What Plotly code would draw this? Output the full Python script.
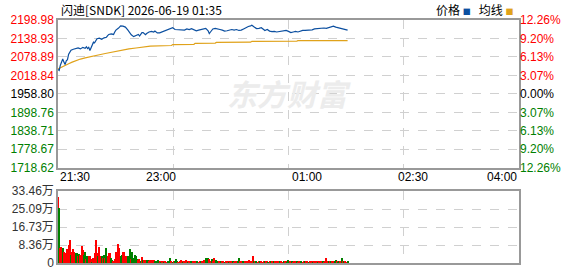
import plotly.graph_objects as go

# ---- data ----
title_text = "闪迪[SNDK] 2026-06-19 01:35"
x_labels = ["21:30", "23:00", "01:00", "02:30", "04:00"]
price_ticks = [1718.62, 1778.67, 1838.71, 1898.76, 1958.80, 2018.84, 2078.89, 2138.93, 2198.98]
pct_labels = ["12.26%", "9.20%", "6.13%", "3.07%", "0.00%", "3.07%", "6.13%", "9.20%", "12.26%"]
vol_ticks = [0, 8.36, 16.73, 25.09, 33.46]
vol_labels = ["0", "8.36万", "16.73万", "25.09万", "33.46万"]

price_t = [0, 1, 2, 3, 4, 5, 6, 7, 8, 9, 10, 11, 13, 15, 17, 19, 21, 23, 24, 25, 26, 27, 28, 29,
           30, 31, 32, 33, 35, 37, 39, 41, 42, 43, 45, 47, 48, 49, 51, 53, 55, 57, 59, 61, 62, 64,
           66, 68, 69, 71, 72, 74, 75, 77, 79, 81, 82, 84, 86, 88, 90, 92, 94, 96, 97, 99, 101,
           103, 105, 107, 109, 111, 113, 115, 117, 119, 121, 123, 125, 127, 128, 129, 131, 133,
           135, 137, 139, 141, 143, 145, 147, 149, 151, 153, 155, 157, 159, 161, 163, 164, 166,
           168, 170, 172, 174, 175, 177, 179, 181, 183, 185, 187, 189, 191, 193, 195, 197, 199,
           201, 203, 205, 207, 209, 211, 213, 215, 217, 219, 221, 223, 225, 227, 229, 231, 233,
           235, 237, 239, 241, 243, 245]
price_v = [2038, 2035, 2052, 2060, 2072, 2062, 2054, 2066, 2070, 2088, 2096, 2101, 2104, 2106,
           2108, 2105, 2110, 2107, 2112, 2106, 2110, 2100, 2108, 2120, 2127, 2125, 2130, 2138,
           2140, 2136, 2141, 2143, 2148, 2152, 2154, 2152, 2160, 2166, 2172, 2180, 2179, 2176,
           2167, 2155, 2151, 2145, 2149, 2152, 2147, 2158, 2158, 2151, 2155, 2160, 2162, 2160,
           2163, 2157, 2157, 2160, 2163, 2166, 2168, 2170, 2174, 2168, 2167, 2168, 2165, 2166,
           2170, 2168, 2171, 2168, 2164, 2166, 2168, 2170, 2172, 2164, 2155, 2160, 2170, 2172,
           2171, 2168, 2166, 2163, 2164, 2166, 2168, 2166, 2168, 2165, 2166, 2170, 2175, 2178,
           2180, 2182, 2176, 2171, 2172, 2174, 2168, 2165, 2168, 2163, 2161, 2162, 2160, 2161,
           2161, 2162, 2165, 2162, 2158, 2160, 2162, 2160, 2163, 2165, 2165, 2166, 2165, 2167,
           2170, 2171, 2172, 2173, 2173, 2172, 2175, 2176, 2179, 2176, 2174, 2170, 2168, 2167,
           2166]

avg_t = [0, 1, 3, 5, 7, 9, 12, 15, 19, 23, 27, 31, 35, 40, 45, 50, 55, 60, 66, 72, 78, 96, 97,
         115, 116, 133, 134, 163, 164, 202, 203, 245]
avg_v = [2040, 2042, 2047, 2051, 2054, 2057, 2062, 2067, 2072, 2076, 2080, 2083, 2086, 2090,
         2094, 2098, 2102, 2105, 2108, 2111, 2114, 2116, 2119, 2120, 2123, 2124, 2126, 2127,
         2129.5, 2130.5, 2131.7, 2132]

vol_minutes = list(range(246))
volumes = [30.8, 25.5, 6.8, 7.6, 6.8, 5.3, 4.5, 2.3, 6.4, 8.3,
           10.6, 3.8, 5.3, 6.4, 5.3, 4.5, 4.8, 3.3, 4.1, 3.8,
           7.8, 6.0, 3.8, 5.0, 1.8, 3.0, 3.0, 3.3, 1.8, 0.4,
           2.3, 4.5, 10.6, 4.5, 3.0, 7.2, 3.3, 3.0, 2.3, 3.8,
           2.3, 6.8, 3.0, 4.5, 4.5, 2.3, 1.5, 0.5, 1.8, 5.0,
           5.0, 8.6, 6.8, 3.3, 3.8, 5.3, 5.3, 3.0, 3.0, 3.0,
           1.8, 6.4, 1.8, 5.3, 2.3, 3.8, 3.0, 1.8, 1.2, 1.8,
           0.8, 2.7, 1.2, 1.5, 1.5, 1.5, 1.2, 0.5, 1.2, 0.6,
           1.2, 1.5, 0.8, 0.3, 0.8, 1.2,
           0.6, 0.4, 0.8, 0.5,
           0.3, 0.7, 0.4, 0.9, 0.5, 2.3, 0.6, 0.4, 0.8, 0.5,
           1.8, 0.6, 0.4, 0.7, 1.5, 0.5, 0.3, 0.6, 1.2, 0.5,
           0.4, 0.6, 0.3, 0.8, 0.5, 0.4, 1.0, 0.5, 0.6, 0.4,
           0.8, 0.5, 0.6, 0.4, 1.5, 2.3, 1.8, 2.3, 2.0, 0.8,
           1.8, 0.6, 2.3, 0.9, 1.2, 0.5, 0.7, 0.4, 0.6, 0.5,
           0.8, 0.4, 0.6, 0.9, 0.5, 0.3, 0.6, 0.5, 0.7, 0.4,
           0.6, 0.8, 0.5, 2.3, 0.6, 0.4, 0.7, 0.5, 0.6, 0.4,
           0.8, 0.5, 1.5, 0.6, 0.9, 3.3, 0.6, 0.5, 0.8, 0.4,
           0.6, 0.5, 0.9, 0.4, 0.6, 1.0, 0.5, 0.7, 0.4, 0.6,
           0.8, 0.5, 0.4, 0.7, 0.5, 0.6, 0.4, 0.8, 0.5, 0.6,
           0.4, 0.7, 0.5, 0.9, 0.4, 1.5, 0.6, 0.5, 0.8, 0.4,
           0.6, 0.5, 0.7, 0.4, 0.6, 0.9, 0.5, 0.4, 0.6, 0.5,
           1.0, 0.6, 0.4, 0.7, 0.5, 0.8, 0.4, 0.6, 0.5, 0.7,
           0.4, 0.6, 0.9, 0.5, 0.6, 0.4, 0.7, 2.3, 0.6, 0.5,
           0.8, 0.9, 0.6, 0.5, 0.7, 1.2, 0.5, 0.4, 0.8, 0.6,
           2.3, 0.6, 0.5, 0.8, 0.4, 0.6]
vol_dir = ("rgrrgrrrrr" "rgrrrggrgr" "rrggrgrrrg" "rrrrgrrgrg" "rgrrrggrrr"
           "rrrggrrrrg" "ggrgggggrr" "grgrrggrrr" "rrgggg"
           "rgrr" "grrgggrgrg" "ggrrrrgrrr" "grrgrrrrgr" "rgrrrgggrr"
           "grrrggrrgr" "rgrrrgrrgr" "rrggrrrgrr" "rrrrrrgrgr" "rgrrrgrrgr"
           "grrgrrrrgr" "rgrrggrrgr" "rrgrrrgrrg" "rrgrrrgrrr" "grrrgrrrrg"
           "rgrrggrggr" "grgrrg")

# ---- style ----
RED, GREEN, DARK = "#ff0000", "#008000", "#000000"
FONT = "Liberation Sans, Arial, Noto Sans CJK SC, sans-serif"
GRID = "#d0d0d0"
FRAME = "#999999"

def col_for(i, n_mid):
    if i > n_mid:
        return RED
    if i < n_mid:
        return GREEN
    return DARK

mid = len(price_ticks) // 2
left_text = [f"<span style='color:{col_for(i, mid)}'>{v:.2f}</span>" for i, v in enumerate(price_ticks)]
right_text = [f"<span style='color:{col_for(i, mid)}'>{t}</span>" for i, t in enumerate(pct_labels)]

bar_colors = [RED if c == "r" else GREEN for c in vol_dir]
n = min(len(vol_minutes), len(volumes), len(bar_colors))

fig = go.Figure()
fig.add_trace(go.Scatter(x=avg_t, y=avg_v, mode="lines", line=dict(color="#e0a21a", width=1.2),
                         xaxis="x", yaxis="y", hoverinfo="skip", showlegend=False))
fig.add_trace(go.Scatter(x=price_t, y=price_v, mode="lines", line=dict(color="#0b4fa0", width=1.2),
                         xaxis="x", yaxis="y", hoverinfo="skip", showlegend=False))
fig.add_trace(go.Scatter(x=price_t, y=price_v, mode="lines", line=dict(color="rgba(0,0,0,0)", width=0),
                         xaxis="x", yaxis="y2", hoverinfo="skip", showlegend=False))
fig.add_trace(go.Bar(x=vol_minutes[:n], y=volumes[:n], marker=dict(color=bar_colors[:n], line=dict(width=0)),
                     width=1.0, xaxis="x2", yaxis="y3", hoverinfo="skip", showlegend=False))

grid_x = [97.5, 195, 292.5]
xcommon = dict(range=[0, 390], tickvals=grid_x, showticklabels=False, showgrid=True, gridcolor=GRID,
               griddash="dash", gridwidth=1, zeroline=False, showline=True, mirror=True,
               linecolor=FRAME, linewidth=1.5, ticks="", fixedrange=True)

fig.update_layout(
    width=578, height=276, paper_bgcolor="white", plot_bgcolor="white",
    margin=dict(l=58, r=59, t=20, b=6),
    font=dict(family=FONT, size=12, color="#000"),
    bargap=0,
    xaxis=dict(domain=[0, 1], anchor="y", **xcommon),
    xaxis2=dict(domain=[0, 1], anchor="y3", **xcommon),
    yaxis=dict(domain=[0.392, 1], range=[price_ticks[0], price_ticks[-1]], tickvals=price_ticks,
               ticktext=left_text, showgrid=True, gridcolor=GRID, griddash="dash", zeroline=False,
               showline=True, mirror=True, linecolor=FRAME, linewidth=1.5, ticks="",
               tickfont=dict(size=12, family=FONT), anchor="x"),
    yaxis2=dict(overlaying="y", side="right", range=[price_ticks[0], price_ticks[-1]],
                tickvals=price_ticks, ticktext=right_text, showgrid=False, zeroline=False,
                showline=False, ticks="", tickfont=dict(size=12, family=FONT), anchor="x"),
    yaxis3=dict(domain=[0, 0.296], range=[0, vol_ticks[-1]], tickvals=vol_ticks, ticktext=vol_labels,
                showgrid=True, gridcolor=GRID, griddash="dash", zeroline=False, showline=True,
                mirror=True, linecolor=FRAME, linewidth=1.5, ticks="",
                tickfont=dict(size=12, family=FONT, color="#333"), anchor="x2"),
)

# x tick labels (placed under the main panel)
xlab_pos = [(0.0, "left"), (0.260, "right"), (0.503, "left"), (0.770, "center"), (1.0, "right")]
for (px, anc), lab in zip(xlab_pos, x_labels):
    fig.add_annotation(text=lab, x=px, y=0.352, xref="paper", yref="paper", xanchor=anc,
                       yanchor="middle", showarrow=False, font=dict(size=12, family=FONT, color="#000"))

# title
fig.add_annotation(text=title_text, x=0.002, y=1.045, xref="paper", yref="paper", xanchor="left",
                   yanchor="middle", showarrow=False,
                   font=dict(size=12, family="Noto Sans CJK SC, Liberation Sans", color="#000"))
# legend
fig.add_annotation(text="价格 <span style='color:#0b4fa0;font-size:8px'>■</span>   均线 <span style='color:#e0a21a;font-size:8px'>■</span>",
                   x=0.992, y=1.045, xref="paper", yref="paper", xanchor="right", yanchor="middle",
                   showarrow=False, font=dict(size=12, family="Noto Sans CJK SC", color="#000"))
# watermark
fig.add_annotation(text="<b><i>东方财富</i></b>", x=0.50, y=0.70, xref="paper", yref="paper",
                   xanchor="center", yanchor="middle", showarrow=False,
                   font=dict(size=30, family="Noto Sans CJK SC", color="#ececec"))

fig.write_html("out.html")
